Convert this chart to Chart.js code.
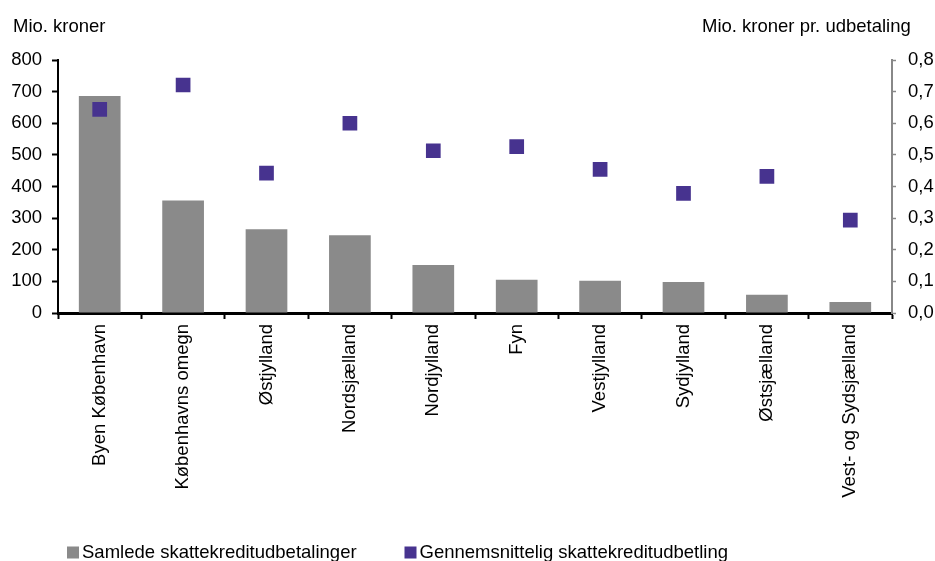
<!DOCTYPE html>
<html>
<head>
<meta charset="utf-8">
<script src="https://cdn.jsdelivr.net/npm/chart.js@4/dist/chart.umd.min.js"></script>
<style>
  html, body { margin: 0; padding: 0; background: #fff; }
  #wrap { width: 935px; height: 561px; position: relative; }
</style>
</head>
<body>
<div id="wrap"><canvas id="c" width="935" height="561"></canvas></div>
<script>
// Regions (landsdele)
const regions = [
  'Byen København', 'Københavns omegn', 'Østjylland', 'Nordsjælland', 'Nordjylland',
  'Fyn', 'Vestjylland', 'Sydjylland', 'Østsjælland', 'Vest- og Sydsjælland'
];
// Total payouts, mio. kr. (left axis)
const totalPayouts = [686, 356, 265, 246, 152, 105, 102, 98, 58, 35];
// Average payout, mio. kr. per payout (right axis)
const avgPayout = [0.644, 0.721, 0.442, 0.600, 0.513, 0.526, 0.454, 0.378, 0.432, 0.294];

const seriesNames = ['Samlede skattekreditudbetalinger', 'Gennemsnittelig skattekreditudbetling'];
const leftTitle = 'Mio. kroner';
const rightTitle = 'Mio. kroner pr. udbetaling';

const FONT = 'Liberation Sans, Arial, sans-serif';
const FS = 18.5;
const barColor = '#8a8a8a';
const pointColor = '#47338f';

// Header titles above each value axis and the legend row under the chart
const decorations = {
  id: 'decorations',
  afterDraw(chart) {
    const ctx = chart.ctx;
    ctx.save();
    ctx.font = FS + 'px ' + FONT;
    ctx.fillStyle = '#000';
    ctx.textBaseline = 'alphabetic';
    ctx.textAlign = 'left';
    ctx.fillText(leftTitle, 13, 32);
    ctx.fillText(rightTitle, 702, 32);

    const items = [
      { x: 67, color: barColor, text: chart.data.datasets[0].label },
      { x: 404.5, color: pointColor, text: chart.data.datasets[1].label }
    ];
    items.forEach(it => {
      ctx.fillStyle = it.color;
      ctx.fillRect(it.x, 546.5, 12, 12);
      ctx.fillStyle = '#000';
      ctx.fillText(it.text, it.x + 15, 558);
    });
    ctx.restore();
  }
};

new Chart(document.getElementById('c'), {
  data: {
    labels: regions,
    datasets: [
      {
        type: 'bar',
        label: seriesNames[0],
        data: totalPayouts,
        backgroundColor: barColor,
        borderWidth: 0,
        barPercentage: 0.5,
        categoryPercentage: 1.0,
        yAxisID: 'y',
        order: 2
      },
      {
        type: 'line',
        label: seriesNames[1],
        data: avgPayout,
        showLine: false,
        pointStyle: 'rect',
        pointRadius: 10.4,
        pointHoverRadius: 10.4,
        pointBackgroundColor: pointColor,
        pointBorderWidth: 0,
        borderColor: pointColor,
        yAxisID: 'y1',
        order: 1
      }
    ]
  },
  options: {
    responsive: false,
    animation: false,
    events: [],
    layout: { padding: { top: 60, left: 0, right: 0, bottom: 0 } },
    plugins: {
      legend: { display: false },
      tooltip: { enabled: false }
    },
    scales: {
      x: {
        type: 'category',
        offset: true,
        grid: {
          offset: true,
          drawOnChartArea: false,
          drawTicks: true,
          tickLength: 6,
          tickWidth: 2,
          tickColor: '#000'
        },
        border: { display: true, color: '#000', width: 3 },
        ticks: {
          minRotation: 90,
          maxRotation: 90,
          autoSkip: false,
          padding: 5,
          color: '#000',
          font: { family: FONT, size: FS }
        },
        afterFit(scale) { scale.height = 248; }
      },
      y: {
        position: 'left',
        min: 0,
        max: 800,
        grid: {
          drawOnChartArea: false,
          drawTicks: true,
          tickLength: 6,
          tickWidth: 2,
          tickColor: '#000'
        },
        border: { display: true, color: '#000', width: 2 },
        ticks: {
          stepSize: 100,
          padding: 10,
          color: '#000',
          font: { family: FONT, size: FS }
        },
        afterFit(scale) { scale.width = 58; }
      },
      y1: {
        position: 'right',
        min: 0,
        max: 0.8,
        grid: {
          drawOnChartArea: false,
          drawTicks: true,
          tickLength: 4,
          tickWidth: 1.5,
          tickColor: '#888'
        },
        border: { display: true, color: '#888', width: 2 },
        ticks: {
          stepSize: 0.1,
          padding: 12,
          color: '#000',
          font: { family: FONT, size: FS },
          callback: v => v.toFixed(1).replace('.', ',')
        },
        afterFit(scale) { scale.width = 43; }
      }
    }
  },
  plugins: [decorations]
});
</script>
</body>
</html>
